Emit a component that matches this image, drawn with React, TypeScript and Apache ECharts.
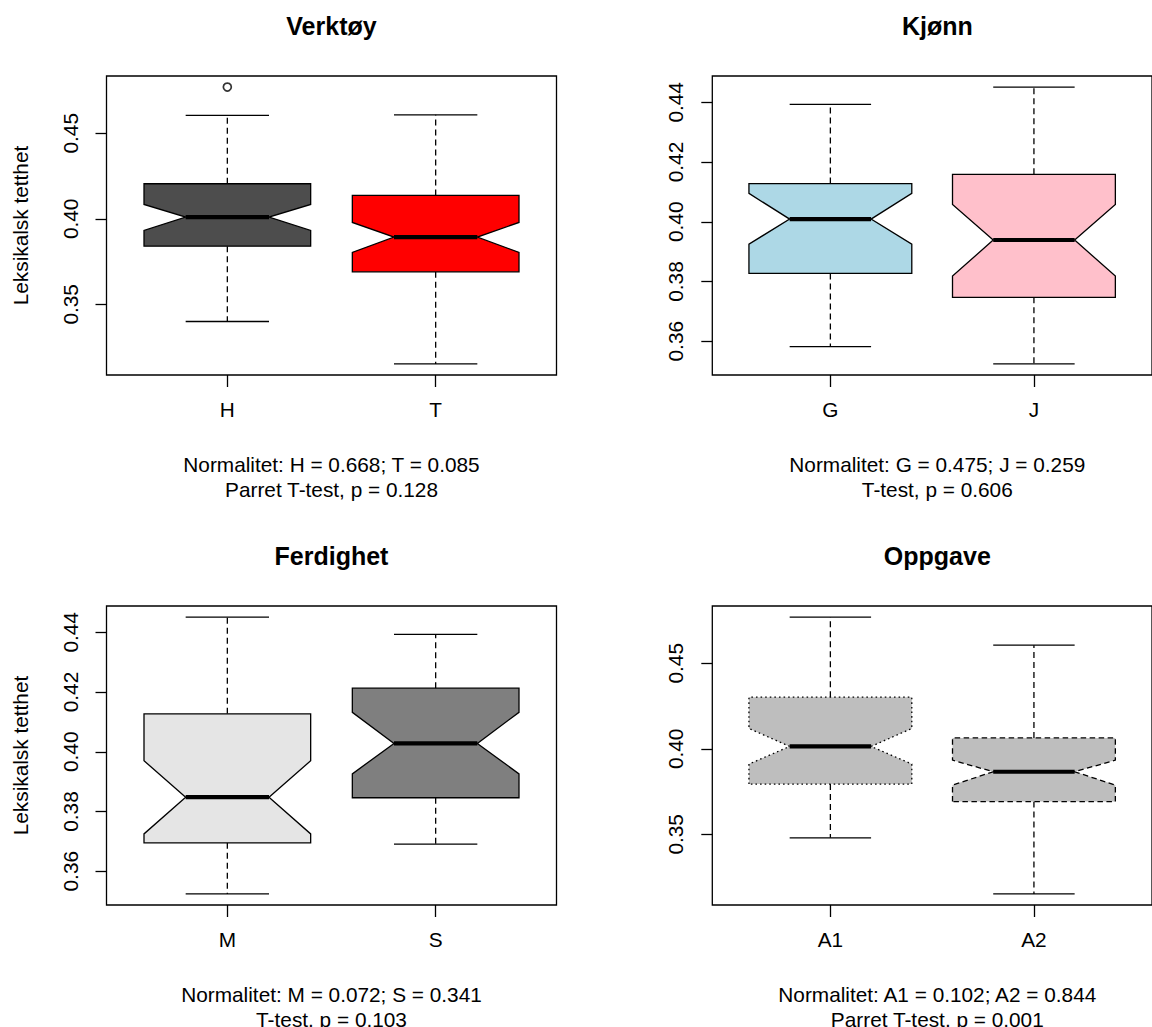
import React, { useEffect, useRef } from "react";
import * as echarts from "echarts";

const FONT = '"Liberation Sans", Arial, Helvetica, sans-serif';

// Panel titles
const panelTitles = ["Verktøy", "Kjønn", "Ferdighet", "Oppgave"];

// Group labels per panel
const verktoyGroups = ["H", "T"];
const kjonnGroups = ["G", "J"];
const ferdighetGroups = ["M", "S"];
const oppgaveGroups = ["A1", "A2"];

// Per-group statistics:
// [lower whisker, Q1, notch low, median, notch high, Q3, upper whisker]
const verktoyStats = [
  [0.34, 0.384, 0.3932, 0.401, 0.4084, 0.4205, 0.4605],
  [0.3152, 0.369, 0.3804, 0.3893, 0.3979, 0.4137, 0.4608],
];
const kjonnStats = [
  [0.3582, 0.3827, 0.3925, 0.4009, 0.4095, 0.4128, 0.4393],
  [0.3524, 0.3747, 0.3818, 0.3939, 0.4058, 0.4159, 0.4451],
];
const ferdighetStats = [
  [0.3524, 0.3695, 0.3725, 0.3848, 0.397, 0.4127, 0.4451],
  [0.3691, 0.3846, 0.3926, 0.4028, 0.4132, 0.4213, 0.4393],
];
const oppgaveStats = [
  [0.348, 0.3794, 0.3911, 0.4014, 0.4119, 0.4302, 0.477],
  [0.3152, 0.3692, 0.3788, 0.3866, 0.3934, 0.4064, 0.4606],
];

// Points beyond the whiskers: [group position, value]
const verktoyOutliers = [[1, 0.477]];
const kjonnOutliers: number[][] = [];
const ferdighetOutliers: number[][] = [];
const oppgaveOutliers: number[][] = [];

// Box fills and border line types
const verktoyFills = ["#4D4D4D", "#FF0000"];
const kjonnFills = ["#ADD8E6", "#FFC0CB"];
const ferdighetFills = ["#E5E5E5", "#7F7F7F"];
const oppgaveFills = ["#BEBEBE", "#BEBEBE"];
const verktoyBorders = ["solid", "solid"];
const kjonnBorders = ["solid", "solid"];
const ferdighetBorders = ["solid", "solid"];
const oppgaveBorders = ["dotted", "dashed"];

// Y-axis tick values
const ticksWide = [0.35, 0.4, 0.45];
const ticksNarrow = [0.36, 0.38, 0.4, 0.42, 0.44];

// Test results printed under each panel
const verktoyNotes = ["Normalitet: H = 0.668; T = 0.085", "Parret T-test, p = 0.128"];
const kjonnNotes = ["Normalitet: G = 0.475; J = 0.259", "T-test, p = 0.606"];
const ferdighetNotes = ["Normalitet: M = 0.072; S = 0.341", "T-test, p = 0.103"];
const oppgaveNotes = ["Normalitet: A1 = 0.102; A2 = 0.844", "Parret T-test, p = 0.001"];

const yTitle = "Leksikalsk tetthet";

const panels = [
  { title: panelTitles[0], groups: verktoyGroups, stats: verktoyStats, outliers: verktoyOutliers, fills: verktoyFills, borders: verktoyBorders, ticks: ticksWide, notes: verktoyNotes, yName: yTitle },
  { title: panelTitles[1], groups: kjonnGroups, stats: kjonnStats, outliers: kjonnOutliers, fills: kjonnFills, borders: kjonnBorders, ticks: ticksNarrow, notes: kjonnNotes, yName: "" },
  { title: panelTitles[2], groups: ferdighetGroups, stats: ferdighetStats, outliers: ferdighetOutliers, fills: ferdighetFills, borders: ferdighetBorders, ticks: ticksNarrow, notes: ferdighetNotes, yName: yTitle },
  { title: panelTitles[3], groups: oppgaveGroups, stats: oppgaveStats, outliers: oppgaveOutliers, fills: oppgaveFills, borders: oppgaveBorders, ticks: ticksWide, notes: oppgaveNotes, yName: "" },
];

// Panel layout (pixels)
const COL_LEFT = [106.5, 712.3];
const ROW_TOP = [76, 606];
const PLOT_W = 450;
const PLOT_H = 299;
const LW = 1.3;

function dashFor(kind: string): number[] | undefined {
  if (kind === "dotted") return [1.6, 3];
  if (kind === "dashed") return [5.5, 3.5];
  return undefined;
}

function makeRenderer(fills: string[], borders: string[]) {
  return (params: any, api: any) => {
    const x = api.value(0);
    const lw = api.value(1);
    const q1 = api.value(2);
    const nlo = api.value(3);
    const med = api.value(4);
    const nhi = api.value(5);
    const q3 = api.value(6);
    const uw = api.value(7);
    const half = 0.4;
    const inner = 0.2;
    const pt = (dx: number, v: number) => api.coord([x + dx, v]);
    const i = params.dataIndex;
    const seg = (a: number[], b: number[], extra: any) => ({
      type: "line",
      shape: { x1: a[0], y1: a[1], x2: b[0], y2: b[1] },
      style: { stroke: "#000", lineWidth: LW, fill: null, ...extra },
    });
    const whiskerDash = [6, 4];
    return {
      type: "group",
      children: [
        seg(pt(0, q3), pt(0, uw), { lineDash: whiskerDash }),
        seg(pt(0, q1), pt(0, lw), { lineDash: whiskerDash }),
        seg(pt(-inner, uw), pt(inner, uw), {}),
        seg(pt(-inner, lw), pt(inner, lw), {}),
        {
          type: "polygon",
          shape: {
            points: [
              pt(-half, q1),
              pt(-half, nlo),
              pt(-inner, med),
              pt(-half, nhi),
              pt(-half, q3),
              pt(half, q3),
              pt(half, nhi),
              pt(inner, med),
              pt(half, nlo),
              pt(half, q1),
            ],
          },
          style: {
            fill: fills[i],
            stroke: "#000",
            lineWidth: LW,
            lineDash: dashFor(borders[i]),
            lineJoin: "miter",
          },
        },
        seg(pt(-inner, med), pt(inner, med), { lineWidth: 4.2, lineCap: "butt" }),
      ],
    };
  };
}

export default function App() {
  const ref = useRef<HTMLDivElement>(null);

  useEffect(() => {
    if (!ref.current) return;
    const chart = echarts.init(ref.current, undefined, { renderer: "svg" });

    const grids: any[] = [];
    const xAxes: any[] = [];
    const yAxes: any[] = [];
    const series: any[] = [];
    const graphics: any[] = [];

    panels.forEach((p, k) => {
      const col = k % 2;
      const row = Math.floor(k / 2);
      const left = COL_LEFT[col];
      const top = ROW_TOP[row];
      const cx = left + PLOT_W / 2;

      // y range: data extremes extended by 4% on each side
      const all: number[] = [];
      p.stats.forEach((s) => all.push(...s));
      p.outliers.forEach((o) => all.push(o[1]));
      const lo = Math.min(...all);
      const hi = Math.max(...all);
      const pad = 0.04 * (hi - lo);

      grids.push({
        left,
        top,
        width: PLOT_W,
        height: PLOT_H,
        show: true,
        borderColor: "#000",
        borderWidth: LW,
        backgroundColor: "transparent",
        containLabel: false,
      });

      const groups = p.groups;
      const positions = groups.map((_, i) => i + 1);
      xAxes.push({
        type: "value",
        gridIndex: k,
        min: 0.42,
        max: groups.length + 0.58,
        axisLine: { show: false },
        splitLine: { show: false },
        axisTick: {
          show: true,
          customValues: positions,
          length: 12,
          lineStyle: { color: "#000", width: LW },
        },
        axisLabel: {
          show: true,
          customValues: positions,
          margin: 24,
          color: "#000",
          fontFamily: FONT,
          fontSize: 20.8,
          formatter: (v: number) => groups[Math.round(v) - 1] ?? "",
        },
      });

      yAxes.push({
        type: "value",
        gridIndex: k,
        min: lo - pad,
        max: hi + pad,
        name: p.yName,
        nameLocation: "middle",
        nameRotate: 90,
        nameGap: 76,
        nameTextStyle: { color: "#000", fontFamily: FONT, fontSize: 20.8 },
        axisLine: { show: false },
        splitLine: { show: false },
        axisTick: {
          show: true,
          customValues: p.ticks,
          length: 11,
          lineStyle: { color: "#000", width: LW },
        },
        axisLabel: {
          show: true,
          customValues: p.ticks,
          rotate: 90,
          margin: 26,
          color: "#000",
          fontFamily: FONT,
          fontSize: 20.8,
          formatter: (v: number) => v.toFixed(2),
        },
      });

      series.push({
        type: "custom",
        xAxisIndex: k,
        yAxisIndex: k,
        renderItem: makeRenderer(p.fills, p.borders),
        encode: { x: 0, y: [1, 2, 3, 4, 5, 6, 7] },
        data: p.stats.map((s, i) => [i + 1, ...s]),
        silent: true,
        z: 2,
      });

      if (p.outliers.length) {
        series.push({
          type: "scatter",
          xAxisIndex: k,
          yAxisIndex: k,
          symbol: "circle",
          symbolSize: 8,
          itemStyle: { color: "#fff", borderColor: "#000", borderWidth: 1.7 },
          data: p.outliers,
          silent: true,
          z: 3,
        });
      }

      graphics.push({
        type: "text",
        x: cx,
        y: top - 50,
        style: {
          text: p.title,
          align: "center",
          verticalAlign: "middle",
          fontFamily: FONT,
          fontSize: 25,
          fontWeight: "bold",
          fill: "#000",
        },
      });
      p.notes.forEach((line, j) => {
        graphics.push({
          type: "text",
          x: cx,
          y: top + 388 + j * 25,
          style: {
            text: line,
            align: "center",
            verticalAlign: "middle",
            fontFamily: FONT,
            fontSize: 20.8,
            fill: "#000",
          },
        });
      });
    });

    chart.setOption({
      animation: false,
      backgroundColor: "#fff",
      grid: grids,
      xAxis: xAxes,
      yAxis: yAxes,
      series,
      graphic: graphics,
    });

    return () => chart.dispose();
  }, []);

  return (
    <div
      ref={ref}
      style={{ position: "absolute", left: 0, top: 0, width: 1152, height: 1027 }}
    />
  );
}
